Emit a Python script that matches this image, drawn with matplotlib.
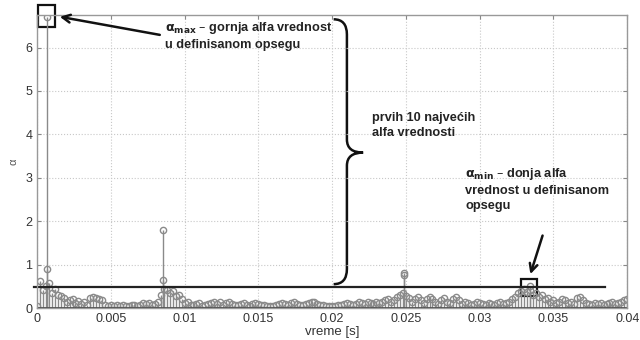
import matplotlib
matplotlib.use("Agg")
import matplotlib.pyplot as plt
from matplotlib.path import Path
from matplotlib.patches import PathPatch, Rectangle
import numpy as np

plt.rcParams['font.family'] = ['Liberation Sans', 'DejaVu Sans']
plt.rcParams['mathtext.default'] = 'bf'

# alpha values sampled every 0.2 ms
alfa = [
    0.05, 0.63, 0.42, 0.50, 0.58, 0.35, 0.45, 0.30, 0.28, 0.22,
    0.15, 0.18, 0.20, 0.12, 0.16, 0.10, 0.14, 0.08, 0.22, 0.25,
    0.24, 0.20, 0.18, 0.08, 0.05, 0.06, 0.04, 0.07, 0.05, 0.06,
    0.05, 0.04, 0.06, 0.08, 0.05, 0.07, 0.12, 0.10, 0.12, 0.08,
    0.10, 0.15, 0.30, 0.45, 0.42, 0.35, 0.40, 0.28, 0.30, 0.20,
    0.12, 0.15, 0.08, 0.06, 0.10, 0.12, 0.05, 0.08, 0.10, 0.12,
    0.15, 0.10, 0.14, 0.08, 0.12, 0.15, 0.10, 0.06, 0.08, 0.10,
    0.12, 0.08, 0.05, 0.10, 0.12, 0.10, 0.08, 0.06, 0.05, 0.04,
    0.05, 0.08, 0.10, 0.12, 0.10, 0.08, 0.12, 0.15, 0.10, 0.08,
    0.06, 0.10, 0.12, 0.14, 0.15, 0.10, 0.08, 0.06, 0.05, 0.04,
    0.04, 0.05, 0.08, 0.06, 0.10, 0.12, 0.10, 0.08, 0.10, 0.14,
    0.12, 0.10, 0.15, 0.12, 0.10, 0.14, 0.12, 0.15, 0.18, 0.20,
    0.15, 0.18, 0.25, 0.30, 0.35, 0.28, 0.22, 0.15, 0.20, 0.25,
    0.18, 0.12, 0.20, 0.25, 0.20, 0.15, 0.10, 0.18, 0.22, 0.15,
    0.12, 0.20, 0.25, 0.18, 0.10, 0.15, 0.12, 0.08, 0.10, 0.15,
    0.12, 0.10, 0.08, 0.12, 0.10, 0.08, 0.12, 0.15, 0.10, 0.12,
    0.15, 0.20, 0.25, 0.35, 0.40, 0.45, 0.38, 0.42, 0.30, 0.35,
    0.25, 0.30, 0.20, 0.22, 0.15, 0.18, 0.12, 0.15, 0.20, 0.18,
    0.12, 0.15, 0.10, 0.22, 0.25, 0.18, 0.12, 0.10, 0.08, 0.12,
    0.10, 0.12, 0.08, 0.10, 0.12, 0.15, 0.10, 0.12, 0.15, 0.18, 0.20,
]
vreme = np.linspace(0, 0.04, len(alfa))

# isolated large values
vrh_t = [0.0007, 0.0007, 0.0085, 0.0085, 0.0249, 0.0249, 0.0334]
vrh_a = [6.7, 0.9, 1.8, 0.65, 0.81, 0.75, 0.5]

alfa_min = 0.49
alfa_max = 6.7

t_all = np.concatenate([vreme, vrh_t])
a_all = np.concatenate([alfa, vrh_a])

fig = plt.figure(figsize=(6.4, 3.4), dpi=100)
ax = fig.add_axes([0.058, 0.094, 0.922, 0.862])

gray = '#8a8a8a'
ml, sl, bl = ax.stem(t_all, a_all, linefmt='-', markerfmt='o', basefmt='-')
plt.setp(sl, color=gray, linewidth=1.0)
plt.setp(ml, markerfacecolor='none', markeredgecolor=gray, markersize=4.5, markeredgewidth=1.0)
plt.setp(bl, color='#444444', linewidth=2.0)

ax.set_xlim(0, 0.04)
ax.set_ylim(0, 6.75)
ax.set_xticks([0, 0.005, 0.01, 0.015, 0.02, 0.025, 0.03, 0.035, 0.04])
ax.set_xticklabels(['0', '0.005', '0.01', '0.015', '0.02', '0.025', '0.03', '0.035', '0.04'])
ax.set_yticks([0, 1, 2, 3, 4, 5, 6])
ax.grid(True, linestyle=':', color='#c8c8c8', linewidth=0.8)
ax.tick_params(direction='in', top=True, right=True, labelsize=9,
               colors='#888888', labelcolor='#333333', length=3)
for s in ax.spines.values():
    s.set_color('#999999')
    s.set_linewidth(1.0)
ax.set_xlabel('vreme [s]', fontsize=9.5, color='#333333', labelpad=1)
ax.set_ylabel('α', fontsize=8, color='#555555', labelpad=5)

# threshold line
ax.plot([-0.0002, 0.0385], [alfa_min, alfa_min], color='#222222', lw=1.6, clip_on=False)

# boxes around the limits
ax.add_patch(Rectangle((0.00007, alfa_max - 0.23), 0.00113, 0.5, fill=False,
                       ec='#111111', lw=1.6, clip_on=False))
ax.add_patch(Rectangle((0.0328, alfa_min - 0.21), 0.0011, 0.4, fill=False,
                       ec='#111111', lw=1.6, clip_on=False))

# brace spanning the top values
x0, x1, xt = 0.0201, 0.0210, 0.0221
yt, yb, ym = 6.65, 0.55, 3.58
verts = [(x0, yt), (x1, yt), (x1, yt - 0.35),
         (x1, ym + 0.3), (x1, ym), (xt, ym),
         (x1, ym), (x1, ym - 0.3),
         (x1, yb + 0.35), (x1, yb), (x0, yb)]
codes = [Path.MOVETO, Path.CURVE3, Path.CURVE3,
         Path.LINETO, Path.CURVE3, Path.CURVE3,
         Path.CURVE3, Path.CURVE3,
         Path.LINETO, Path.CURVE3, Path.CURVE3]
ax.add_patch(PathPatch(Path(verts, codes), fill=False, ec='#111111', lw=1.8, clip_on=False))

txt = dict(fontsize=9.2, fontweight='bold', color='#222222', va='top', ha='left', linespacing=1.35)
ax.annotate('', xy=(0.00135, 6.72), xytext=(0.0085, 6.28),
            arrowprops=dict(arrowstyle='->', lw=1.8, color='#111111', mutation_scale=14))
fig.text(165 / 640, 1 - 20 / 340, r'$\alpha_{max}$ – gornja alfa vrednost' + '\nu definisanom opsegu', **txt)

ax.annotate('', xy=(0.03338, 0.72), xytext=(0.03432, 1.73),
            arrowprops=dict(arrowstyle='->', lw=1.8, color='#111111', mutation_scale=14))
fig.text(465 / 640, 1 - 166 / 340, r'$\alpha_{min}$ – donja alfa' + '\nvrednost u definisanom\nopsegu', **txt)

fig.text(372 / 640, 1 - 112 / 340, 'prvih 10 najvećih\nalfa vrednosti', **txt)

fig.savefig('out.png', dpi=100)
